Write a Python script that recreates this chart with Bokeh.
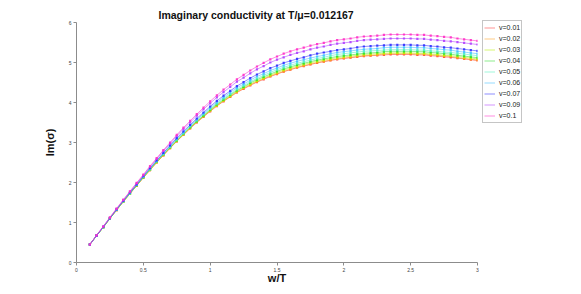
from bokeh.plotting import figure
from bokeh.models import Legend, LegendItem, FixedTicker, Range1d
from bokeh.embed import file_html
from bokeh.resources import INLINE

x = [0.10, 0.15, 0.20, 0.25, 0.30, 0.35, 0.40, 0.45, 0.50, 0.55, 0.60, 0.65, 0.70, 0.75, 0.80,
     0.85, 0.90, 0.95, 1.00, 1.05, 1.10, 1.15, 1.20, 1.25, 1.30, 1.35, 1.40, 1.45, 1.50, 1.55,
     1.60, 1.65, 1.70, 1.75, 1.80, 1.85, 1.90, 1.95, 2.00, 2.05, 2.10, 2.15, 2.20, 2.25, 2.30,
     2.35, 2.40, 2.45, 2.50, 2.55, 2.60, 2.65, 2.70, 2.75, 2.80, 2.85, 2.90, 2.95, 3.00]

y_v001 = [0.45, 0.67, 0.88, 1.10, 1.31, 1.52, 1.72, 1.92, 2.12, 2.31, 2.50, 2.68, 2.86, 3.03, 3.19,
          3.35, 3.50, 3.64, 3.78, 3.91, 4.03, 4.14, 4.25, 4.34, 4.43, 4.51, 4.58, 4.65, 4.71, 4.77,
          4.82, 4.87, 4.91, 4.95, 4.99, 5.02, 5.05, 5.08, 5.10, 5.12, 5.14, 5.16, 5.17, 5.18, 5.19,
          5.20, 5.20, 5.20, 5.20, 5.19, 5.19, 5.17, 5.16, 5.14, 5.13, 5.11, 5.09, 5.07, 5.05]
y_v002 = [0.45, 0.67, 0.88, 1.10, 1.31, 1.52, 1.72, 1.92, 2.12, 2.31, 2.50, 2.68, 2.86, 3.03, 3.20,
          3.36, 3.51, 3.65, 3.79, 3.92, 4.04, 4.15, 4.26, 4.35, 4.44, 4.52, 4.59, 4.66, 4.72, 4.78,
          4.83, 4.88, 4.92, 4.96, 5.00, 5.03, 5.06, 5.09, 5.11, 5.13, 5.15, 5.17, 5.18, 5.19, 5.21,
          5.22, 5.22, 5.22, 5.22, 5.21, 5.21, 5.19, 5.18, 5.16, 5.15, 5.12, 5.10, 5.08, 5.06]
y_v003 = [0.45, 0.67, 0.88, 1.10, 1.31, 1.52, 1.72, 1.93, 2.13, 2.32, 2.51, 2.69, 2.87, 3.04, 3.20,
          3.37, 3.52, 3.66, 3.80, 3.93, 4.05, 4.16, 4.28, 4.37, 4.46, 4.54, 4.61, 4.68, 4.75, 4.81,
          4.86, 4.91, 4.95, 4.99, 5.03, 5.06, 5.09, 5.12, 5.14, 5.16, 5.18, 5.20, 5.21, 5.22, 5.23,
          5.24, 5.24, 5.24, 5.24, 5.23, 5.23, 5.21, 5.20, 5.18, 5.17, 5.15, 5.13, 5.11, 5.09]
y_v004 = [0.45, 0.67, 0.88, 1.10, 1.32, 1.53, 1.73, 1.93, 2.13, 2.33, 2.52, 2.70, 2.88, 3.05, 3.22,
          3.38, 3.53, 3.67, 3.82, 3.95, 4.07, 4.19, 4.30, 4.39, 4.49, 4.57, 4.64, 4.71, 4.78, 4.84,
          4.89, 4.94, 4.98, 5.02, 5.06, 5.09, 5.12, 5.15, 5.17, 5.19, 5.21, 5.23, 5.24, 5.25, 5.27,
          5.28, 5.28, 5.28, 5.28, 5.27, 5.27, 5.25, 5.24, 5.22, 5.21, 5.18, 5.16, 5.14, 5.12]
y_v005 = [0.45, 0.67, 0.88, 1.11, 1.32, 1.53, 1.73, 1.94, 2.14, 2.33, 2.53, 2.71, 2.89, 3.07, 3.23,
          3.40, 3.55, 3.70, 3.84, 3.97, 4.10, 4.21, 4.33, 4.42, 4.52, 4.60, 4.68, 4.75, 4.82, 4.88,
          4.93, 4.98, 5.02, 5.06, 5.10, 5.13, 5.17, 5.20, 5.22, 5.24, 5.26, 5.28, 5.29, 5.30, 5.31,
          5.32, 5.32, 5.32, 5.32, 5.31, 5.31, 5.29, 5.28, 5.26, 5.25, 5.23, 5.21, 5.19, 5.17]
y_v006 = [0.45, 0.67, 0.89, 1.11, 1.32, 1.54, 1.74, 1.94, 2.15, 2.35, 2.54, 2.73, 2.91, 3.09, 3.25,
          3.42, 3.57, 3.72, 3.87, 4.00, 4.13, 4.25, 4.37, 4.46, 4.56, 4.65, 4.72, 4.80, 4.86, 4.93,
          4.98, 5.03, 5.07, 5.11, 5.15, 5.18, 5.22, 5.25, 5.27, 5.29, 5.31, 5.33, 5.34, 5.35, 5.37,
          5.38, 5.38, 5.38, 5.38, 5.37, 5.37, 5.35, 5.34, 5.32, 5.31, 5.28, 5.26, 5.24, 5.22]
y_v007 = [0.45, 0.67, 0.89, 1.11, 1.33, 1.54, 1.75, 1.95, 2.16, 2.36, 2.55, 2.74, 2.93, 3.11, 3.28,
          3.44, 3.60, 3.75, 3.90, 4.04, 4.17, 4.29, 4.41, 4.51, 4.61, 4.70, 4.78, 4.86, 4.92, 4.99,
          5.04, 5.09, 5.13, 5.18, 5.22, 5.25, 5.28, 5.31, 5.33, 5.35, 5.38, 5.40, 5.41, 5.42, 5.43,
          5.44, 5.44, 5.44, 5.44, 5.43, 5.43, 5.41, 5.40, 5.38, 5.37, 5.35, 5.33, 5.31, 5.29]
y_v009 = [0.45, 0.68, 0.90, 1.12, 1.34, 1.56, 1.77, 1.98, 2.18, 2.39, 2.59, 2.79, 2.97, 3.16, 3.34,
          3.50, 3.67, 3.83, 3.98, 4.13, 4.26, 4.39, 4.52, 4.62, 4.73, 4.83, 4.91, 5.00, 5.07, 5.13,
          5.19, 5.24, 5.28, 5.33, 5.37, 5.40, 5.44, 5.47, 5.49, 5.51, 5.54, 5.56, 5.57, 5.58, 5.59,
          5.60, 5.60, 5.60, 5.60, 5.59, 5.59, 5.57, 5.56, 5.54, 5.53, 5.51, 5.49, 5.47, 5.45]
y_v010 = [0.45, 0.68, 0.90, 1.13, 1.35, 1.57, 1.78, 1.99, 2.20, 2.41, 2.61, 2.81, 3.00, 3.19, 3.37,
          3.54, 3.71, 3.87, 4.03, 4.18, 4.32, 4.45, 4.58, 4.69, 4.80, 4.90, 4.99, 5.08, 5.15, 5.22,
          5.28, 5.33, 5.37, 5.42, 5.46, 5.49, 5.53, 5.56, 5.58, 5.60, 5.63, 5.65, 5.66, 5.67, 5.69,
          5.70, 5.70, 5.70, 5.70, 5.69, 5.69, 5.67, 5.66, 5.64, 5.63, 5.60, 5.58, 5.56, 5.54]

series_labels = ["v=0.01", "v=0.02", "v=0.03", "v=0.04", "v=0.05", "v=0.06", "v=0.07", "v=0.09", "v=0.1"]
series_values = [y_v001, y_v002, y_v003, y_v004, y_v005, y_v006, y_v007, y_v009, y_v010]
series_colors = ["#ff3b3b", "#ffa020", "#b8f000", "#30e030", "#50f0c0", "#40c0ff", "#3030ff", "#b040ff", "#ff30c8"]

xtick_values = [0, 0.5, 1, 1.5, 2, 2.5, 3]
xtick_labels = ["0", "0.5", "1", "1.5", "2", "2.5", "3"]
ytick_values = [0, 1, 2, 3, 4, 5, 6]
ytick_labels = ["0", "1", "2", "3", "4", "5", "6"]

FONT = "Liberation Sans"

p = figure(frame_width=401, frame_height=240, output_backend="svg", toolbar_location=None,
           x_range=Range1d(0, 3), y_range=Range1d(0, 6),
           title="Imaginary conductivity at T/\u03bc=0.012167",
           min_border_left=76, min_border_top=22, min_border_right=0, min_border_bottom=0)
p.background_fill_color = "white"
p.border_fill_color = "white"
p.outline_line_color = None
p.xgrid.visible = False
p.ygrid.visible = False

p.title.text_font = FONT
p.title.text_font_size = "10.5px"
p.title.text_font_style = "bold"
p.title.align = "left"
p.title.offset = 82
p.title.text_color = "#111111"
p.title.standoff = 4

for ax in (p.xaxis[0], p.yaxis[0]):
    ax.axis_line_color = "#8c8c8c"
    ax.major_tick_line_color = "#8c8c8c"
    ax.minor_tick_line_color = None
    ax.major_tick_out = 3
    ax.major_tick_in = 0
    ax.major_label_text_font = FONT
    ax.major_label_text_font_size = "5px"
    ax.major_label_text_color = "#444444"
    ax.major_label_standoff = 2
    ax.axis_label_text_font = FONT
    ax.axis_label_text_font_style = "bold"
    ax.axis_label_text_font_size = "11px"
    ax.axis_label_text_color = "#111111"

p.xaxis[0].ticker = FixedTicker(ticks=xtick_values)
p.xaxis[0].major_label_overrides = dict(zip(xtick_values, xtick_labels))
p.yaxis[0].ticker = FixedTicker(ticks=ytick_values)
p.yaxis[0].major_label_overrides = dict(zip(ytick_values, ytick_labels))
p.xaxis[0].axis_label = "w/T"
p.yaxis[0].axis_label = "Im(\u03c3)"
p.xaxis[0].axis_label_standoff = -3
p.yaxis[0].axis_label_standoff = 10

items = []
for lab, ys, col in zip(series_labels, series_values, series_colors):
    r1 = p.line(x, ys, line_color=col, line_alpha=0.55, line_width=1)
    p.scatter(x, ys, marker="square", size=2.2, fill_color=col, line_alpha=0,
              fill_alpha=0.9)
    r3 = p.scatter(x=[], y=[], marker="dot", size=6, line_color=col, fill_color=col,
                   line_alpha=1, fill_alpha=1)
    items.append(LegendItem(label=lab, renderers=[r1, r3]))

legend = Legend(items=items, location=(5, 139))
legend.label_text_font = FONT
legend.label_text_font_size = "7px"
legend.label_text_color = "#222222"
legend.glyph_width = 11
legend.glyph_height = 11
legend.label_height = 11
legend.label_standoff = 4
legend.spacing = 0
legend.padding = 1
legend.margin = 0
legend.border_line_color = "#8c8c8c"
legend.border_line_width = 1
legend.background_fill_color = "white"
p.add_layout(legend, "right")
p.min_border_right = 60

open("out.html", "w").write(file_html(p, INLINE))
